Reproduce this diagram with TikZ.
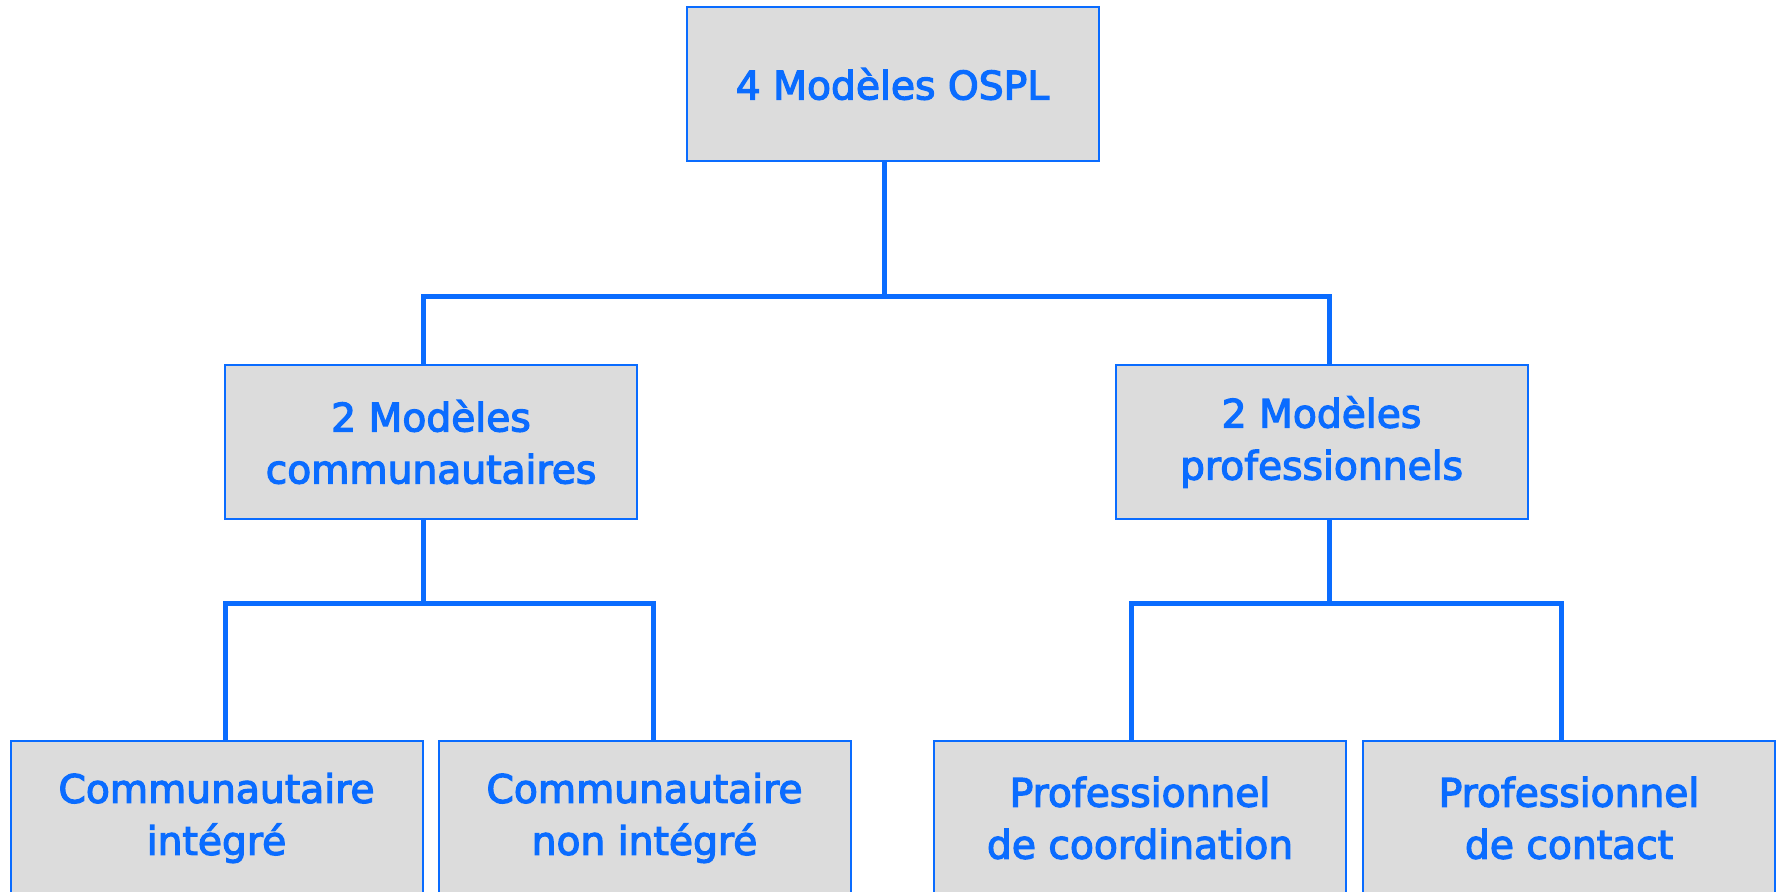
\documentclass[tikz,border=0pt]{standalone}
\usepackage{fontspec}
\setmainfont[FakeBold=3.2]{DejaVu Sans}
\usepackage{tikz}

\definecolor{osplblue}{RGB}{10,108,255}
\definecolor{osplgray}{RGB}{220,220,220}

\tikzset{
  box/.style={draw=osplblue, fill=osplgray, line width=1pt, text=osplblue,
    minimum width=206pt, minimum height=77pt, inner sep=0pt, align=center,
    font=\fontsize{19.6}{26}\selectfont},
  link/.style={draw=osplblue, line width=2.5pt}
}

\begin{document}
\begin{tikzpicture}[x=0.5pt,y=-0.5pt]

\clip (0,0) rectangle (1781,891);

% boxes
\node[box] (ospl) at (892.5,84) {4 Modèles OSPL};

\node[box] (comm) at (431,442) {2 Modèles\\communautaires};
\node[box] (pro) at (1321.5,442) {2 Modèles\\professionnels};

\node[box] (ci) at (216.5,818) {Communautaire\\intégré};
\node[box] (cni) at (644.5,818) {Communautaire\\non intégré};
\node[box] (pco) at (1140,818) {Professionnel\\de coordination};
\node[box] (pct) at (1569,818) {Professionnel\\de contact};

% junctions
\coordinate (top) at (884,296);
\coordinate (topL) at (423,296);
\coordinate (topR) at (1329,296);
\coordinate (commB) at (423,603);
\coordinate (commL) at (225,603);
\coordinate (commR) at (653,603);
\coordinate (proB) at (1329,603);
\coordinate (proL) at (1131,603);
\coordinate (proR) at (1561,603);

% connectors
\draw[link] (ospl.south -| top) -- (top);
\draw[link] (comm.north -| topL) -- (topL) -- (topR) -- (pro.north -| topR);

\draw[link] (comm.south -| commB) -- (commB);
\draw[link] (ci.north -| commL) -- (commL) -- (commR) -- (cni.north -| commR);

\draw[link] (pro.south -| proB) -- (proB);
\draw[link] (pco.north -| proL) -- (proL) -- (proR) -- (pct.north -| proR);

\end{tikzpicture}
\end{document}
